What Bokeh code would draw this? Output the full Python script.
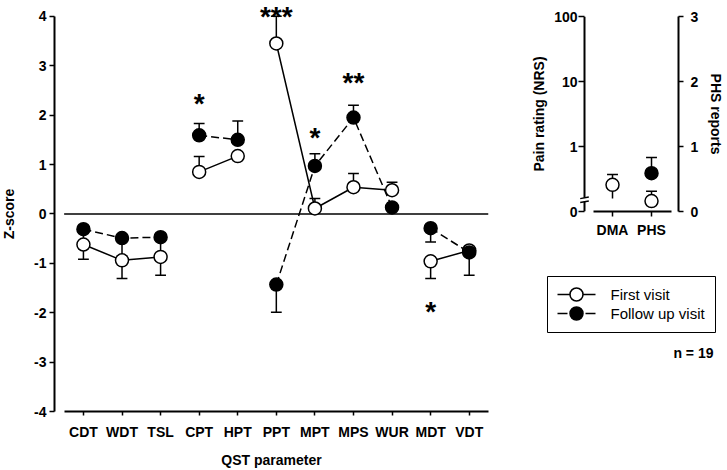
import numpy as np
from bokeh.plotting import figure
from bokeh.layouts import row, column
from bokeh.models import FixedTicker, Label, LinearAxis, Range1d
from bokeh.core.properties import value
from bokeh.embed import file_html
from bokeh.resources import INLINE

FONT = "Liberation Sans"

# ---------------- data ----------------
qst_params = ["CDT", "WDT", "TSL", "CPT", "HPT", "PPT", "MPT", "MPS", "WUR", "MDT", "VDT"]
qst_group = [1, 1, 1, 2, 2, 3, 3, 3, 3, 4, 4]          # connected runs of points
first_z = [-0.62, -0.94, -0.87, 0.85, 1.17, 3.45, 0.11, 0.54, 0.48, -0.96, -0.74]
first_err_end = [-0.92, -1.31, -1.24, 1.16, None, 4.0, 0.31, 0.82, 0.64, -1.31, None]
follow_z = [-0.31, -0.49, -0.47, 1.59, 1.50, -1.43, 0.97, 1.95, 0.13, -0.29, -0.78]
follow_err_end = [-0.60, -0.85, -0.80, 1.83, 1.88, -1.99, 1.22, 2.20, None, -0.57, -1.24]
z_ticks = [-4, -3, -2, -1, 0, 1, 2, 3, 4]

sig_params = ["CPT", "PPT", "MPT", "MPS", "MDT"]
sig_marks = ["*", "***", "*", "**", "*"]
sig_z = [2.36, 4.12, 1.66, 2.78, -1.85]

side_cats = ["DMA", "PHS"]
side_first = [0.41, 0.16]
side_first_hi = [0.57, 0.31]
side_first_lo = [0.20, None]
side_follow = [None, 0.59]
side_follow_hi = [None, 0.83]
side_ticks = [0, 1, 2, 3]
left_tick_labels = ["0", "1", "10", "100"]
right_tick_labels = ["0", "1", "2", "3"]
axis_break = [0.15, 0.21]

legend_labels = ["First visit", "Follow up visit"]
n_label = "n = 19"
z_title = "Z-score"


def style_axis(ax, size="14px"):
    ax.axis_line_color = "black"
    ax.axis_line_width = 2
    ax.major_tick_line_color = "black"
    ax.major_tick_line_width = 1.5
    ax.minor_tick_line_color = None
    ax.major_label_text_font = FONT
    ax.major_label_text_font_size = size
    ax.major_label_text_font_style = "bold"
    ax.major_label_text_color = "black"
    ax.axis_label_text_font = FONT
    ax.axis_label_text_font_size = "14px"
    ax.axis_label_text_font_style = "bold"
    ax.axis_label_text_color = "black"


def bare(fig):
    fig.grid.visible = False
    fig.outline_line_color = None
    fig.background_fill_color = "white"
    fig.border_fill_color = "white"


def errbars(fig, xv, vals, ends, cap=0.14, caps=True):
    sx, sy0, sy1, cx0, cx1, cy = [], [], [], [], [], []
    for x, v, e in zip(xv, vals, ends):
        if e is None or v is None:
            continue
        sx.append(x); sy0.append(v); sy1.append(e)
        cx0.append(x - cap); cx1.append(x + cap); cy.append(e)
    fig.segment(sx, sy0, sx, sy1, line_color="black", line_width=1.5)
    if caps:
        fig.segment(cx0, cy, cx1, cy, line_color="black", line_width=1.5)


# ---------------- y title strip (pixel coordinates) ----------------
p0 = figure(width=20, height=470, x_range=Range1d(0, 20), y_range=Range1d(0, 470),
            x_axis_type=None, y_axis_type=None, output_backend="svg", toolbar_location=None,
            frame_align=False, min_border=0)
bare(p0)
p0.text([8.5], [256.5], text=[z_title], angle=np.pi / 2, text_font=value(FONT),
        text_font_size="14px", text_font_style="bold", text_align="center",
        text_baseline="middle", text_color="black")

# ---------------- main panel ----------------
n = len(qst_params)
xs = list(range(1, n + 1))
p = figure(width=470, height=470, x_range=Range1d(0.25, n + 0.5), y_range=Range1d(-4.0, 4.3),
           output_backend="svg", toolbar_location=None, frame_align=False,
           min_border_left=34, min_border_right=2, min_border_top=1, min_border_bottom=59)
bare(p)

xa = p.xaxis[0]
style_axis(xa)
xa.ticker = FixedTicker(ticks=xs)
xa.major_label_overrides = {i + 1: s for i, s in enumerate(qst_params)}
xa.bounds = (0.5, n + 0.5)
xa.major_tick_in = 0
xa.major_tick_out = 4
xa.major_label_standoff = 8
xa.axis_label = "QST parameter"
xa.axis_label_standoff = 9

ya = p.yaxis[0]
style_axis(ya)
ya.ticker = FixedTicker(ticks=z_ticks)
ya.major_label_overrides = {t: str(t) for t in z_ticks}
ya.bounds = (min(z_ticks), max(z_ticks))
ya.major_tick_in = 0
ya.major_tick_out = 5
ya.major_label_standoff = 3

# zero reference line
p.line([0.5, n + 0.5], [0, 0], line_color="black", line_width=1.5)


def broken(vals):
    bx, by = [], []
    for i, v in enumerate(vals):
        if i > 0 and qst_group[i] != qst_group[i - 1]:
            bx.append(np.nan)
            by.append(np.nan)
        bx.append(xs[i])
        by.append(v)
    return bx, by


lx, ly = broken(first_z)
p.line(lx, ly, line_color="black", line_width=1.5)
fx, fy = broken(follow_z)
p.line(fx, fy, line_color="black", line_width=1.5, line_dash="8 4")

errbars(p, xs, first_z, first_err_end)
errbars(p, xs, follow_z, follow_err_end)

p.scatter(xs, first_z, marker="circle", size=13, fill_color="white", line_color="black", line_width=1.5)
p.scatter(xs, follow_z, marker="circle", size=13, fill_color="black", line_color="black", line_width=1.5)

for c, mtxt, z in zip(sig_params, sig_marks, sig_z):
    p.add_layout(Label(x=qst_params.index(c) + 1, y=z, text=mtxt, text_font=FONT,
                       text_font_size="28px", text_font_style="bold", text_color="black",
                       text_align="center", text_baseline="middle", y_offset=-6))

# ---------------- side panel ----------------
m = len(side_cats)
sxs = list(range(1, m + 1))
x_axis_pos = 0.282          # where the left (broken) axis line sits
p2 = figure(width=237, height=240, x_range=Range1d(0.128, 2.692), y_range=Range1d(0.0, 3.0),
            output_backend="svg", toolbar_location=None, frame_align=False,
            min_border_left=88, min_border_right=49, min_border_top=16, min_border_bottom=28)
bare(p2)

x2 = p2.xaxis[0]
style_axis(x2)
x2.ticker = FixedTicker(ticks=sxs)
x2.major_label_overrides = {i + 1: s for i, s in enumerate(side_cats)}
x2.bounds = (0.5, m + 0.5)
x2.major_tick_in = 0
x2.major_tick_out = 5
x2.major_label_standoff = 5

y2 = p2.yaxis[0]
style_axis(y2)
y2.ticker = FixedTicker(ticks=side_ticks)
y2.major_label_overrides = {t: s for t, s in zip(side_ticks, left_tick_labels)}
y2.axis_line_color = None
y2.major_tick_in = 6
y2.major_tick_out = 0
y2.major_label_standoff = 1
y2.axis_label = "Pain rating (NRS)"
y2.axis_label_standoff = 4

r2 = LinearAxis(ticker=FixedTicker(ticks=side_ticks),
                major_label_overrides={t: s for t, s in zip(side_ticks, right_tick_labels)})
style_axis(r2)
r2.major_tick_in = 0
r2.major_tick_out = 5
r2.major_label_standoff = 7
r2.axis_label = "PHS reports"
r2.axis_label_standoff = 7
p2.add_layout(r2, "right")

# broken left axis line with break marks
p2.line([x_axis_pos, x_axis_pos, np.nan, x_axis_pos, x_axis_pos],
        [side_ticks[0], axis_break[0], np.nan, axis_break[1], side_ticks[-1]],
        line_color="black", line_width=2)
p2.segment([x_axis_pos - 0.11] * 2, [b - 0.012 for b in axis_break],
           [x_axis_pos + 0.11] * 2, [b + 0.012 for b in axis_break],
           line_color="black", line_width=1.5)

errbars(p2, sxs, side_first, side_first_hi)
errbars(p2, sxs, side_first, side_first_lo, caps=False)
errbars(p2, sxs, side_follow, side_follow_hi)
p2.scatter([x for x, v in zip(sxs, side_first) if v is not None],
           [v for v in side_first if v is not None],
           marker="circle", size=13, fill_color="white", line_color="black", line_width=1.5)
p2.scatter([x for x, v in zip(sxs, side_follow) if v is not None],
           [v for v in side_follow if v is not None],
           marker="circle", size=13, fill_color="black", line_color="black", line_width=1.5)

# ---------------- legend / note panel (pixel coordinates) ----------------
p3 = figure(width=237, height=230, x_range=Range1d(0, 237), y_range=Range1d(230, 0),
            x_axis_type=None, y_axis_type=None, output_backend="svg", toolbar_location=None,
            frame_align=False, min_border=0)
bare(p3)
p3.quad(left=[57], right=[225], top=[36], bottom=[92], fill_color="white",
        line_color="black", line_width=1)
rows_y = [54, 73]
p3.line([67, 105], [rows_y[0]] * 2, line_color="black", line_width=1.5)
p3.line([67, 105], [rows_y[1]] * 2, line_color="black", line_width=1.5, line_dash="10 4")
p3.scatter([86], [rows_y[0]], marker="circle", size=13, fill_color="white", line_color="black", line_width=1.5)
p3.scatter([86], [rows_y[1]], marker="circle", size=13, fill_color="black", line_color="black", line_width=1.5)
p3.text([120, 120], rows_y, text=legend_labels, text_font=value(FONT), text_font_size="15px",
        text_baseline="middle", text_align="left", text_color="black")
p3.text([223], [112], text=[n_label], text_font=value(FONT), text_font_size="14px",
        text_font_style="bold", text_baseline="middle", text_align="right", text_color="black")

layout = row(p0, p, column(p2, p3))
open("out.html", "w").write(file_html(layout, INLINE))
